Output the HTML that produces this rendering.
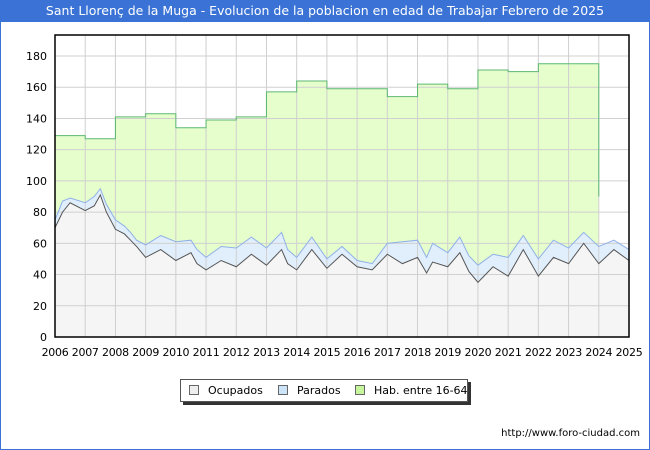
<!DOCTYPE html>
<html><head><meta charset="utf-8"><style>
body{margin:0;width:650px;height:450px;background:#fff;font-family:"DejaVu Sans","Liberation Sans",sans-serif;overflow:hidden;position:relative}
#frame{position:absolute;left:0;top:0;width:648px;height:448px;border:1px solid #3a73d5}
#title{position:absolute;left:0;top:0;width:650px;height:22px;background:#3a73d5;color:#fff;font-size:12.5px;line-height:22px;text-align:center;white-space:nowrap}
#legend{position:absolute;left:180px;top:379px;width:286px;height:21px;border:1px solid #555;background:#fff;box-shadow:3px 3px 0 #333;font-size:11px;line-height:21px;white-space:nowrap}
.li{position:absolute;top:0;white-space:nowrap}
.sw{display:inline-block;width:8px;height:8px;border:1px solid #666;margin-right:9px;vertical-align:-1px}
#foot{position:absolute;right:10px;top:428px;font-size:10px;color:#000}
</style></head><body>
<div id="frame"></div>
<div id="title">Sant Llorenç de la Muga - Evolucion de la poblacion en edad de Trabajar Febrero de 2025</div>
<svg id="chart" width="650" height="450" style="position:absolute;left:0;top:0"></svg>
<div id="legend">
<span class="li" style="left:8px"><span class="sw" style="background:#eee"></span>Ocupados</span>
<span class="li" style="left:97px"><span class="sw" style="background:#cde3f7"></span>Parados</span>
<span class="li" style="left:174px"><span class="sw" style="background:#c7f59c"></span>Hab. entre 16-64</span>
</div>
<div id="foot">http://www.foro-ciudad.com</div>
<script>
const years=[2006,2007,2008,2009,2010,2011,2012,2013,2014,2015,2016,2017,2018,2019,2020,2021,2022,2023];
const hab=[129,127,141,143,134,139,141,157,164,159,159,154,162,159,171,170,175,175];
const habEnd=90;
const times=[2006,2006.25,2006.5,2007,2007.3,2007.5,2007.7,2008,2008.3,2008.5,2008.7,2009,2009.5,2010,2010.5,2010.7,2011,2011.5,2012,2012.5,2013,2013.5,2013.7,2014,2014.5,2015,2015.5,2016,2016.5,2017,2017.5,2018,2018.3,2018.5,2019,2019.4,2019.7,2020,2020.5,2021,2021.5,2022,2022.5,2023,2023.5,2024,2024.5,2025];
const ocupados=[70,80,86,81,84,91,80,69,66,62,58,51,56,49,54,47,43,49,45,53,46,56,47,43,56,44,53,45,43,53,47,51,41,48,45,54,42,35,45,39,56,39,51,47,60,47,56,49];
const parados=[5,7,3,5,6,4,5,6,5,5,4,8,9,12,8,9,8,9,12,11,11,11,9,8,8,6,5,4,4,7,14,11,10,12,9,10,10,11,8,12,9,11,11,10,7,11,6,7];
const ticksY=[0,20,40,60,80,100,120,140,160,180];
const ticksX=[2006,2007,2008,2009,2010,2011,2012,2013,2014,2015,2016,2017,2018,2019,2020,2021,2022,2023,2024,2025];
const L=55,R=629,T=35,B=337;
const X=t=>L+(t-2006)*(R-L)/19;
const Y=v=>B-v*(B-56)/180;
const svg=document.getElementById('chart');
const NS='http://www.w3.org/2000/svg';
function mk(tag,attrs){const e=document.createElementNS(NS,tag);for(const k in attrs)e.setAttribute(k,attrs[k]);svg.appendChild(e);return e;}
let bg=mk('rect',{x:L,y:T,width:R-L,height:B-T,fill:'#fff'});


let hp=[];
years.forEach((y,i)=>{hp.push([X(y),Y(hab[i])]);hp.push([X(y+1),Y(hab[i])]);});
hp.push([X(2024),Y(habEnd)]);
let habFill='M'+X(2006)+','+Y(0)+' '+hp.map(p=>'L'+p[0]+','+p[1]).join(' ')+' L'+X(2024)+','+Y(0)+'Z';
let hf=mk('path',{d:habFill,fill:'#e6fdcc',stroke:'none'});


const tot=times.map((t,i)=>[X(t),Y(ocupados[i]+parados[i])]);
const oc=times.map((t,i)=>[X(t),Y(ocupados[i])]);
let pf=mk('path',{d:'M'+X(2006)+','+Y(0)+' '+tot.map(p=>'L'+p[0]+','+p[1]).join(' ')+' L'+X(2025)+','+Y(0)+'Z',fill:'#e1effd'});


let of=mk('path',{d:'M'+X(2006)+','+Y(0)+' '+oc.map(p=>'L'+p[0]+','+p[1]).join(' ')+' L'+X(2025)+','+Y(0)+'Z',fill:'#f5f5f5'});


ticksY.forEach(v=>{
 let g=mk('line',{x1:L,x2:R,y1:Y(v),y2:Y(v),stroke:'#d0d0d0','stroke-width':1});
 
 
 let t=mk('text',{x:L-8,y:Y(v)+4,'text-anchor':'end','font-size':11,fill:'#000'});
 
 
 t.textContent=v;
});
ticksX.forEach(v=>{
 let g=mk('line',{x1:X(v),x2:X(v),y1:T,y2:B,stroke:'#cfcfcf','stroke-width':1});
 
 
 let t=mk('text',{x:X(v),y:356,'text-anchor':'middle','font-size':11,'letter-spacing':'-0.3',fill:'#000'});
 
 
 t.textContent=v;
});
let hl=mk('polyline',{points:hp.map(p=>p.join(',')).join(' '),fill:'none',stroke:'#5cb870','stroke-width':1});


let tl=mk('polyline',{points:tot.map(p=>p.join(',')).join(' '),fill:'none',stroke:'#8fb0e8','stroke-width':1});


let ol=mk('polyline',{points:oc.map(p=>p.join(',')).join(' '),fill:'none',stroke:'#555','stroke-width':1});


let ax=mk('rect',{x:L,y:T,width:R-L,height:B-T,fill:'none',stroke:'#000','stroke-width':1.5});


</script>
</body></html>
